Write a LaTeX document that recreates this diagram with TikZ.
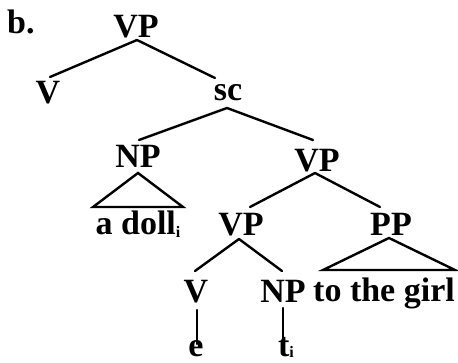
\documentclass[tikz,border=0pt]{standalone}
\usepackage{fontspec}
\setmainfont{Liberation Serif}
\usetikzlibrary{calc}
\newcommand{\subi}[1][3pt]{\raisebox{-#1}{\fontsize{16}{16}\selectfont i}}
\begin{document}
\begin{tikzpicture}[x=1pt,y=-1pt,
  lab/.style={font=\fontsize{34}{34}\bfseries\selectfont, inner sep=0pt, anchor=base},
  br/.style={line width=2.4pt, line cap=round}]
\useasboundingbox (0,0) rectangle (458,362);
\node[lab, anchor=base west] (b) at (7,33) {b.};
\node[lab] (vp1) at (136,37) {VP};
\node[lab] (v1) at (48,103) {V};
\node[lab] (sc) at (228,100) {sc};
\node[lab] (np3) at (138,167) {NP};
\node[lab] (adoll) at (138,234) {a doll\subi};
\node[lab] (vp3) at (317,171) {VP};
\node[lab] (vp4) at (241,235) {VP};
\node[lab] (pp) at (391,235) {PP};
\node[lab] (v5) at (196,302) {V};
\node[lab] (np5) at (283,302) {NP};
\node[lab] (girl) at (384,301) {to the girl};
\node[lab] (e) at (196,356) {e};
\node[lab] (t) at (286,356) {t\subi[1.5pt]};
% branches
\draw[br] ($(vp1.base)+(1,3)$) -- ($(v1.base)+(2,-26)$);
\draw[br] ($(vp1.base)+(1,3)$) -- ($(sc.base)+(-13,-22)$);
\draw[br] ($(sc.base)+(-1,8)$) -- ($(np3.base)+(1,-27)$);
\draw[br] ($(sc.base)+(-1,8)$) -- ($(vp3.base)+(-4,-31)$);
\draw[br] ($(vp3.base)+(-2,2)$) -- ($(vp4.base)+(9,-28)$);
\draw[br] ($(vp3.base)+(-2,2)$) -- ($(pp.base)+(-11,-28)$);
\draw[br] ($(vp4.base)+(-2,4)$) -- ($(v5.base)+(-1,-31)$);
\draw[br] ($(vp4.base)+(-2,4)$) -- ($(np5.base)+(-1,-31)$);
\draw[br] ($(v5.base)+(1,8)$) -- ($(e.base)+(1,-12)$);
\draw[br] ($(np5.base)+(0,6)$) -- ($(t.base)+(-3,-15)$);
% triangles
\draw[br, line join=miter] ($(np3.base)+(0,6)$) -- ($(np3.base)+(-45,40)$) -- ($(np3.base)+(45,40)$) -- cycle;
\draw[br, line join=miter] ($(pp.base)+(-2,3)$) -- ($(pp.base)+(-68,35)$) -- ($(pp.base)+(64,35)$) -- cycle;
\end{tikzpicture}
\end{document}
